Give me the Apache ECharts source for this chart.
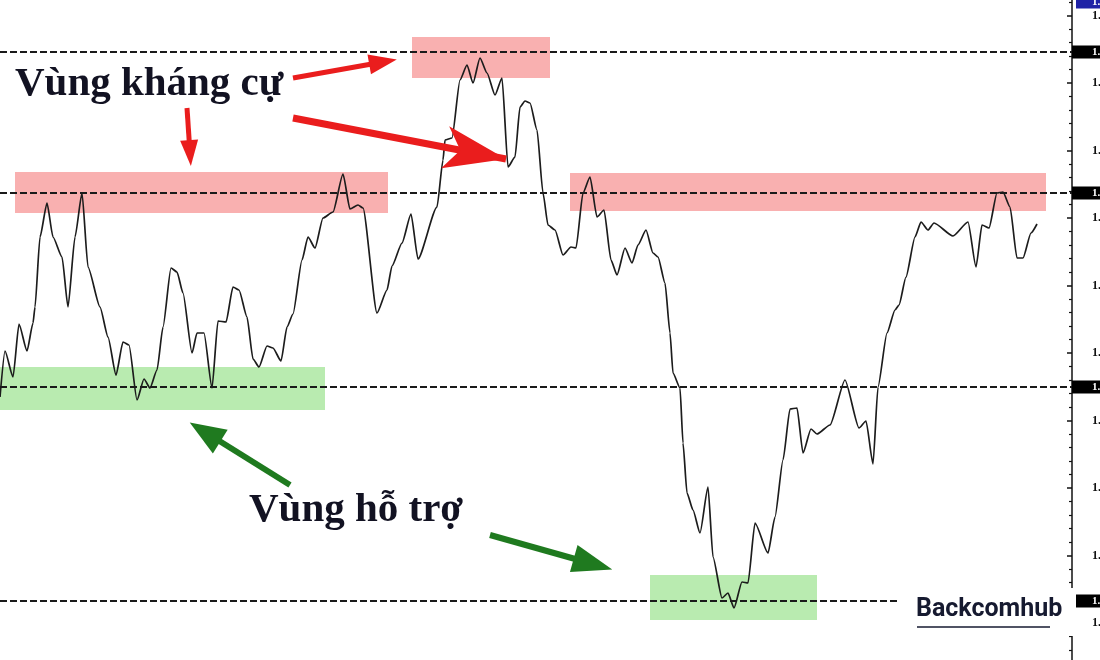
<!DOCTYPE html>
<html><head><meta charset="utf-8">
<script src="https://cdn.jsdelivr.net/npm/echarts@6/dist/echarts.min.js"></script>
<style>html,body{margin:0;padding:0;background:#fff}#c{width:1100px;height:660px}</style>
</head><body><div id="c"></div>
<script>
// time (bar index) and close price in pips (price x 10000)
const bars = [0,5,13,19,27,33,35,40,47,53,62,68,75,82,88,100,108,116,123,129,137,144,150,157,163,171,177,183,192,197,204,212,218,226,233,239,247,253,259,267,273,281,287,293,302,308,315,323,333,343,350,358,363,377,387,392,402,411,418,437,443,445,452,460,467,473,480,487,495,502,508,515,520,525,530,537,543,548,555,563,571,576,583,590,597,604,611,617,625,632,638,646,653,658,665,670,673,680,683,687,693,700,708,713,722,728,734,742,748,755,768,775,783,790,797,803,811,817,830,845,859,866,873,878,887,895,899,906,915,921,928,934,953,968,976,982,989,997,1003,1010,1017,1023,1031,1037];
const closes = [13321,13367,13341,13394,13367,13395,13411,13481,13515,13481,13461,13411,13481,13525,13451,13411,13381,13343,13376,13373,13318,13339,13330,13348,13391,13450,13446,13425,13365,13385,13385,13330,13397,13396,13431,13428,13401,13359,13351,13372,13370,13357,13391,13404,13458,13481,13470,13500,13506,13544,13509,13513,13510,13405,13428,13452,13475,13504,13459,13511,13558,13578,13580,13638,13653,13635,13660,13645,13623,13640,13551,13561,13611,13617,13615,13588,13525,13493,13488,13463,13471,13470,13525,13541,13501,13508,13458,13443,13470,13455,13473,13488,13465,13461,13435,13385,13345,13330,13275,13225,13208,13185,13231,13161,13120,13125,13110,13136,13135,13195,13165,13201,13258,13309,13310,13265,13289,13284,13293,13338,13290,13297,13254,13331,13385,13408,13413,13441,13481,13496,13488,13495,13482,13496,13451,13493,13490,13525,13526,13511,13460,13460,13485,13494];
// horizontal key levels (pips)
const levels = [13666, 13525, 13331, 13117];
const currentPrice = 13716;
// zones: [xStart, xEnd, low, high]
const resistanceZones = [[15,388,13505,13546],[412,550,13640,13681],[570,1046,13507,13545]];
const supportZones = [[0,325,13308,13351],[650,817,13098,13143]];
// arrows: [x1, y1, x2, y2, headW, headH, width]
const redArrows = [[293,13640,383,13656,20,28,5],[187,13610,190,13565,18,26,5],[293,13600,506,13559,32,62,7]];
const greenArrows = [[290,13233,205,13286,28,36,6],[490,13183,593,13154,28,40,6]];
const resistanceText = 'Vùng kháng cự';
const supportText = 'Vùng hỗ trợ';

const RED = '#ea1d1d', GREEN = '#1f7a1f';
const lineData = bars.map((b, i) => [b, closes[i]]);
const fmt = v => (v / 10000).toFixed(4);

function arrowItems(list, color, sym) {
  return list.map((a, i) => [
    { coord: [a[0], a[1]], symbol: 'none', lineStyle: { color: color, width: a[6], type: 'solid' } },
    { coord: [a[2], a[3]], symbol: sym(i), symbolSize: [a[4], a[5]], itemStyle: { color: color } }
  ]);
}

const chart = echarts.init(document.getElementById('c'));
chart.setOption({
  animation: false,
  backgroundColor: '#ffffff',
  grid: { left: 0, right: 28, top: -54.5, bottom: -30.5, containLabel: false, outerBoundsMode: 'none' },
  xAxis: { type: 'value', min: 0, max: 1072, show: false },
  yAxis: {
    type: 'value', position: 'right', min: 13027.5, max: 13772.5, interval: 67.5,
    axisLine: { show: true, onZero: false, lineStyle: { color: '#111', width: 1.5 } },
    axisTick: { show: true, inside: true, length: 5, lineStyle: { color: '#111', width: 1.5 } },
    minorTick: { show: true, splitNumber: 5, length: 3, lineStyle: { color: '#111', width: 1.2 } },
    splitLine: { show: false },
    axisLabel: { show: true, margin: 20, color: '#111', fontFamily: 'Liberation Serif', fontWeight: 'bold', fontSize: 12, formatter: fmt }
  },
  series: [
    {
      type: 'line', data: lineData, z: 2, symbol: 'none', smooth: 0.2, smoothMonotone: 'x',
      lineStyle: { color: '#1c1c1c', width: 1.7 },
      markLine: {
        silent: true, symbol: ['none', 'none'], animation: false,
        lineStyle: { color: '#1a1a1a', width: 2, type: [7, 3] },
        label: { show: true, position: 'end', distance: 0, color: '#fff', fontFamily: 'Liberation Serif', fontWeight: 'bold', fontSize: 11, backgroundColor: '#000', padding: [1, 8, 1, 20], formatter: p => fmt(p.value) },
        data: levels.map(v => ({ yAxis: v })).concat([{
          yAxis: currentPrice, lineStyle: { color: 'rgba(0,0,0,0)', width: 0 },
          label: { show: true, backgroundColor: '#1f22a6', color: '#fff', distance: 4, padding: [1, 8, 1, 16] }
        }])
      }
    },
    {
      type: 'line', data: lineData, z: 3, symbol: 'none', silent: true,
      lineStyle: { opacity: 0 },
      markArea: {
        silent: true,
        data: resistanceZones.map(z => [{ coord: [z[0], z[3]], itemStyle: { color: 'rgba(242,80,80,0.45)' } }, { coord: [z[1], z[2]] }])
          .concat(supportZones.map(z => [{ coord: [z[0], z[3]], itemStyle: { color: 'rgba(100,210,80,0.45)' } }, { coord: [z[1], z[2]] }]))
      },
      markLine: {
        silent: true, label: { show: false },
        data: arrowItems(redArrows, RED, i => i === 2 ? 'arrow' : 'triangle')
          .concat(arrowItems(greenArrows, GREEN, () => 'triangle'))
      }
    }
  ],
  graphic: [
    { type: 'text', left: 15, top: 64, z: 50, style: { text: resistanceText, font: 'bold 41px "Liberation Serif"', fill: '#121222' } },
    { type: 'text', left: 249, top: 490, z: 50, style: { text: supportText, font: 'bold 41px "Liberation Serif"', fill: '#121222' } },
    { type: 'rect', shape: { x: 900, y: 588, width: 176, height: 48 }, z: 60, style: { fill: '#ffffff' } },
    { type: 'text', left: 916, top: 597, z: 61, style: { text: 'Backcomhub', font: 'bold 25px Roboto', fill: '#161a30' } },
    { type: 'line', shape: { x1: 917, y1: 627, x2: 1050, y2: 627 }, z: 61, style: { stroke: '#161a30', lineWidth: 1.5 } }
  ]
});
</script>
</body></html>
